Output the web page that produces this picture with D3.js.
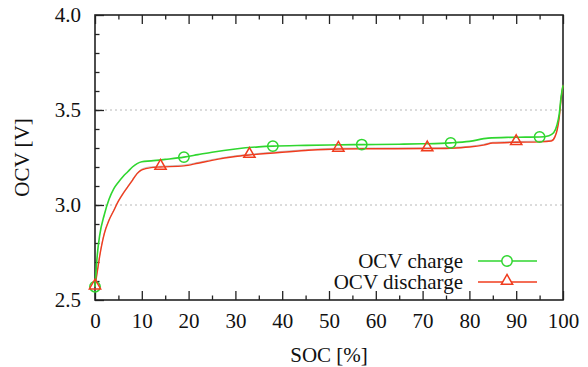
<!doctype html>
<html lang="en">
<head>
<meta charset="UTF-8">
<title>OCV</title>
<script src="https://d3js.org/d3.v7.min.js"></script>
<style>
  body { margin: 0; background: #fff; }
</style>
</head>
<body>
<div id="myDiv"></div>
<script>
// SOC [%] sample points of the curves
var chargeSoc = [0, 0.5, 1, 2, 3, 4, 5, 6, 7, 8, 9, 10, 12, 15, 19, 22, 25, 30, 35, 38, 45, 50, 57, 65, 70, 76, 80, 84, 88, 92, 95, 97, 98, 98.7, 99.2, 99.6, 100];
var chargeOcv = [2.57, 2.74, 2.84, 2.95, 3.03, 3.085, 3.12, 3.15, 3.175, 3.2, 3.218, 3.228, 3.232, 3.24, 3.252, 3.265, 3.278, 3.295, 3.306, 3.31, 3.314, 3.316, 3.318, 3.32, 3.322, 3.327, 3.335, 3.352, 3.356, 3.357, 3.358, 3.365, 3.38, 3.42, 3.48, 3.57, 3.63];

var dischargeSoc = [0, 0.5, 1, 2, 3, 4, 5, 6, 7, 8, 9, 10, 12, 14, 19, 22, 25, 30, 33, 40, 45, 52, 60, 71, 76, 80, 83, 85, 90, 95, 97.5, 98.3, 98.8, 99.2, 99.6, 100];
var dischargeOcv = [2.57, 2.65, 2.73, 2.85, 2.92, 2.97, 3.02, 3.06, 3.095, 3.13, 3.165, 3.185, 3.197, 3.2, 3.206, 3.22, 3.235, 3.255, 3.263, 3.278, 3.287, 3.295, 3.296, 3.297, 3.299, 3.305, 3.315, 3.326, 3.33, 3.332, 3.337, 3.36, 3.4, 3.46, 3.56, 3.63];

// marker positions
var chargeMarkSoc = [0, 19, 38, 57, 76, 95];
var chargeMarkOcv = [2.57, 3.252, 3.31, 3.318, 3.327, 3.358];
var dischargeMarkSoc = [0, 14, 33, 52, 71, 90];
var dischargeMarkOcv = [2.57, 3.2, 3.263, 3.295, 3.297, 3.33];

var xTicks = [0, 10, 20, 30, 40, 50, 60, 70, 80, 90, 100];
var yTicks = [2.5, 3.0, 3.5, 4.0];
var seriesNames = ["OCV charge", "OCV discharge"];

var width = 588, height = 367;
var padL = 95, padR = 563, padT = 15, padB = 300;
var green = "#2fd62f", red = "#f03c1e";
var serif = "'Liberation Serif', 'Times New Roman', Times, 'DejaVu Serif', serif";
var fs = 21;

var svg = d3.select("#myDiv").append("svg")
  .attr("width", width)
  .attr("height", height)
  .attr("font-family", serif);

var xScale = d3.scaleLinear().domain([0, 100]).range([padL, padR]);
var yScale = d3.scaleLinear().domain([2.5, 4.0]).range([padB, padT]);

// grid lines
svg.selectAll(".grid")
  .data([3.0, 3.5])
  .enter().append("line")
  .attr("x1", padL).attr("x2", padR)
  .attr("y1", function(d){ return yScale(d); })
  .attr("y2", function(d){ return yScale(d); })
  .attr("stroke", "#b8b8b8")
  .attr("stroke-width", 1)
  .attr("stroke-dasharray", "2,3");

// axes
var xAxis = d3.axisBottom(xScale).tickValues(xTicks).tickSizeInner(-9).tickSizeOuter(0).tickPadding(13)
  .tickFormat(d3.format("d"));
var xMinor = d3.axisBottom(xScale).tickValues(d3.range(5, 100, 10)).tickSizeInner(-4.5).tickSizeOuter(0).tickFormat("");
var xTop = d3.axisTop(xScale).tickValues(xTicks).tickSizeInner(-9).tickSizeOuter(0).tickFormat("");
var xTopMinor = d3.axisTop(xScale).tickValues(d3.range(5, 100, 10)).tickSizeInner(-4.5).tickSizeOuter(0).tickFormat("");
var yAxis = d3.axisLeft(yScale).tickValues(yTicks).tickSizeInner(-9).tickSizeOuter(0).tickPadding(14)
  .tickFormat(d3.format(".1f"));
var yMinor = d3.axisLeft(yScale).tickValues(d3.range(2.6, 3.95, 0.1)).tickSizeInner(-4.5).tickSizeOuter(0).tickFormat("");

function styleAxis(g) {
  g.attr("font-family", serif).attr("font-size", fs);
  g.select(".domain").remove();
  g.selectAll("line").attr("stroke", "#222").attr("stroke-width", 1.3);
  g.selectAll("text").attr("fill", "#111");
}

svg.append("g").attr("transform", "translate(0," + padB + ")").call(xAxis).call(styleAxis);
svg.append("g").attr("transform", "translate(0," + padB + ")").call(xMinor).call(styleAxis);
svg.append("g").attr("transform", "translate(0," + padT + ")").call(xTop).call(styleAxis);
svg.append("g").attr("transform", "translate(0," + padT + ")").call(xTopMinor).call(styleAxis);
svg.append("g").attr("transform", "translate(" + padL + ",0)").call(yAxis).call(styleAxis);
svg.append("g").attr("transform", "translate(" + padL + ",0)").call(yMinor).call(styleAxis);

// frame
svg.append("rect")
  .attr("x", padL).attr("y", padT)
  .attr("width", padR - padL).attr("height", padB - padT)
  .attr("fill", "none").attr("stroke", "#222").attr("stroke-width", 1.6);

// curves
var line = d3.line()
  .x(function(d){ return xScale(d[0]); })
  .y(function(d){ return yScale(d[1]); })
  .curve(d3.curveMonotoneX);

var chargeData = d3.zip(chargeSoc, chargeOcv);
var dischargeData = d3.zip(dischargeSoc, dischargeOcv);

svg.append("path").datum(dischargeData)
  .attr("d", line).attr("fill", "none")
  .attr("stroke", "#999").attr("stroke-width", 1).attr("opacity", 0.6)
  .attr("transform", "translate(0,-0.8)");
svg.append("path").datum(dischargeData)
  .attr("d", line).attr("fill", "none")
  .attr("stroke", red).attr("stroke-width", 1.4);
svg.append("path").datum(chargeData)
  .attr("d", line).attr("fill", "none")
  .attr("stroke", green).attr("stroke-width", 1.6);

// markers
var tri = d3.symbol().type(d3.symbolTriangle).size(55);

svg.selectAll(".cm")
  .data(d3.zip(chargeMarkSoc, chargeMarkOcv))
  .enter().append("circle")
  .attr("cx", function(d){ return xScale(d[0]); })
  .attr("cy", function(d){ return yScale(d[1]); })
  .attr("r", 5.2)
  .attr("fill", "none").attr("stroke", green).attr("stroke-width", 1.5);

svg.selectAll(".dm")
  .data(d3.zip(dischargeMarkSoc, dischargeMarkOcv))
  .enter().append("path")
  .attr("d", tri)
  .attr("transform", function(d){ return "translate(" + xScale(d[0]) + "," + (yScale(d[1]) - 1) + ")"; })
  .attr("fill", "none").attr("stroke", red).attr("stroke-width", 1.5);

// legend
var legend = svg.append("g").attr("font-size", fs);
var legendY = [261, 282];
seriesNames.forEach(function(name, i){
  var col = i === 0 ? green : red;
  legend.append("text")
    .attr("x", 463).attr("y", legendY[i])
    .attr("dy", "0.35em")
    .attr("text-anchor", "end")
    .attr("fill", "#111")
    .text(name);
  legend.append("line")
    .attr("x1", 478).attr("x2", 537)
    .attr("y1", legendY[i]).attr("y2", legendY[i])
    .attr("stroke", col).attr("stroke-width", 1.6);
  if (i === 0) {
    legend.append("circle")
      .attr("cx", 507).attr("cy", legendY[i]).attr("r", 5.2)
      .attr("fill", "#fff").attr("stroke", col).attr("stroke-width", 1.5);
  } else {
    legend.append("path")
      .attr("d", tri)
      .attr("transform", "translate(507," + (legendY[i] - 1) + ")")
      .attr("fill", "#fff").attr("stroke", col).attr("stroke-width", 1.5);
  }
});

// axis titles
svg.append("text")
  .attr("x", (padL + padR) / 2).attr("y", 355)
  .attr("dy", "0.35em")
  .attr("text-anchor", "middle")
  .attr("font-size", fs)
  .attr("fill", "#111")
  .text("SOC [%]");

svg.append("text")
  .attr("transform", "translate(22," + (padT + padB) / 2 + ") rotate(-90)")
  .attr("dy", "0.35em")
  .attr("text-anchor", "middle")
  .attr("font-size", fs)
  .attr("fill", "#111")
  .text("OCV [V]");
</script>
</body>
</html>
